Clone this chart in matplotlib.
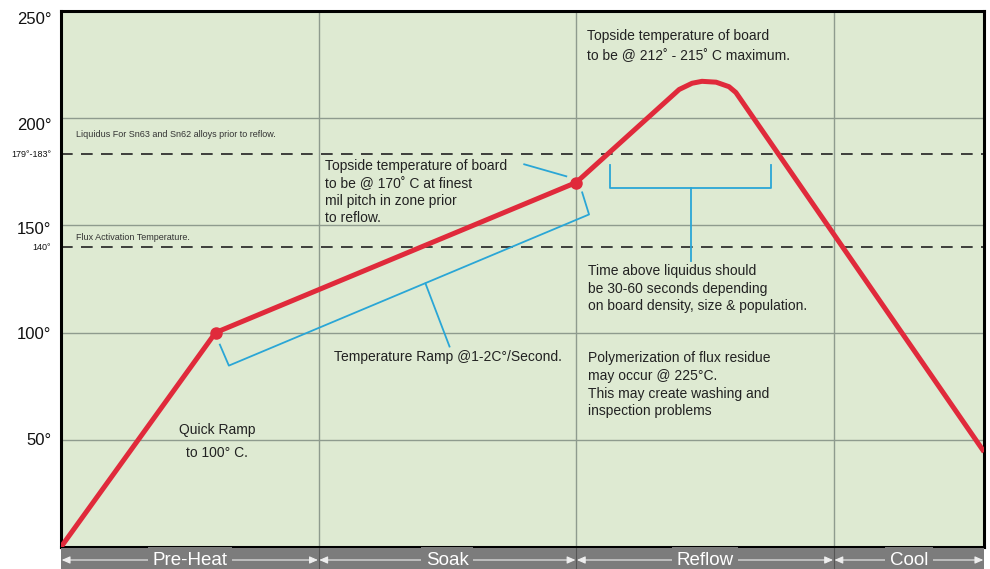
import matplotlib
matplotlib.use('Agg')
import matplotlib.pyplot as plt
import matplotlib.transforms as mtransforms

plt.rcParams['font.family'] = ['Liberation Sans', 'DejaVu Sans']

# reflow profile (time in s, temperature in C)
time_s = [0, 36, 120, 144.0, 147.0, 149.3, 152.6, 155.6, 157.2, 214.7]
temp_c = [0, 100, 170, 213.4, 216.3, 217.2, 216.8, 214.7, 212.0, 45.3]
dot_time = [36, 120]
dot_temp = [100, 170]

zone_names = ['Pre-Heat', 'Soak', 'Reflow', 'Cool']
zone_edges = [0, 60, 120, 180, 215]

grid_temps = [50, 100, 150, 200]
tick_temps = [250, 200, 150, 100, 50, 183.5, 140]
tick_labels = ['250°', '200°', '150°', '100°', '50°', '179°-183°', '140°']
tick_shift_px = [7, 6, 3, 0, -1, 0, 0]
liquidus = 183.5
flux_act = 140

# blue callout brackets
ramp_bracket_x = [37.0, 39.1, 123.0, 121.4]
ramp_bracket_y = [94.4, 84.6, 155.1, 165.4]
ramp_tick_x = [84.9, 90.5]
ramp_tick_y = [122.9, 93.5]
leader_x = [107.9, 117.7]
leader_y = [178.5, 172.9]
tal_bracket_x = [127.9, 127.9, 165.3, 165.3]
tal_bracket_y = [178.0, 167.3, 167.3, 178.0]
tal_tick_x = [146.7, 146.7]
tal_tick_y = [167.3, 133.2]

red = '#e02a3b'
blue = '#2aa6d6'
bg = '#deead2'
gridc = '#8e9b8e'

fig = plt.figure(figsize=(9.9, 5.69), dpi=100)
ax = fig.add_axes([61/990, 22/569, 923/990, 536/569])
ax.set_facecolor(bg)
ax.set_xlim(zone_edges[0], zone_edges[-1])
ax.set_ylim(0, 250)

for t in grid_temps:
    ax.axhline(t, color=gridc, lw=1.0, zorder=1)
for x in zone_edges[1:-1]:
    ax.axvline(x, color=gridc, lw=1.0, zorder=1)
for t in [liquidus, flux_act]:
    ax.axhline(t, color='#222222', lw=1.2, dashes=(7, 5), zorder=2)

ax.plot(ramp_bracket_x, ramp_bracket_y, color=blue, lw=1.3, zorder=3)
ax.plot(ramp_tick_x, ramp_tick_y, color=blue, lw=1.3, zorder=3)
ax.plot(leader_x, leader_y, color=blue, lw=1.3, zorder=3)
ax.plot(tal_bracket_x, tal_bracket_y, color=blue, lw=1.3, zorder=3)
ax.plot(tal_tick_x, tal_tick_y, color=blue, lw=1.3, zorder=3)

ax.plot(time_s, temp_c, color=red, lw=3.6, solid_joinstyle='round', zorder=4)
ax.plot(dot_time, dot_temp, 'o', color=red, ms=8, zorder=5)

ax.set_xticks([])
ax.set_yticks(tick_temps)
ax.set_yticklabels(tick_labels)
ax.tick_params(axis='y', length=0, pad=7)
for lab, t, dy in zip(ax.get_yticklabels(), tick_temps, tick_shift_px):
    lab.set_fontsize(12 if t % 50 == 0 else 6.5)
    lab.set_color('#111111')
    off = mtransforms.ScaledTranslation(0, -dy / 100, fig.dpi_scale_trans)
    lab.set_transform(lab.get_transform() + off)
for s in ax.spines.values():
    s.set_linewidth(2.2)
    s.set_color('black')

txt = dict(color='#222222', fontsize=10, va='top', ha='left', zorder=6)
ax.text(122.6, 241.5, 'Topside temperature of board\nto be @ 212˚ - 215˚ C maximum.',
        linespacing=1.55, **txt)
ax.text(61.4, 180.8, 'Topside temperature of board\nto be @ 170˚ C at finest\nmil pitch in zone prior\nto reflow.',
        linespacing=1.3, **txt)
ax.text(122.8, 131.8, 'Time above liquidus should\nbe 30-60 seconds depending\non board density, size & population.',
        linespacing=1.3, **txt)
ax.text(122.8, 91.2, 'Polymerization of flux residue\nmay occur @ 225°C.\nThis may create washing and\ninspection problems',
        linespacing=1.33, **txt)
ax.text(63.5, 88.8, 'Temperature Ramp @1-2C°/Second.', color='#222222', fontsize=10,
        va='center', ha='left')
ax.text(36.3, 58.0, 'Quick Ramp\nto 100° C.', color='#222222', fontsize=10,
        va='top', ha='center', linespacing=1.85)
ax.text(3.5, 192.5, 'Liquidus For Sn63 and Sn62 alloys prior to reflow.', fontsize=6.5,
        color='#333333', va='center')
ax.text(3.5, 144.4, 'Flux Activation Temperature.', fontsize=6.5, color='#333333', va='center')

# zone band under the chart
band = fig.add_axes([61/990, -4/569, 923/990, 25/569])
band.set_facecolor('#7c7c7c')
band.set_xlim(zone_edges[0], zone_edges[-1])
band.set_ylim(0, 1)
band.set_xticks([])
band.set_yticks([])
for s in band.spines.values():
    s.set_visible(False)
for name, x0, x1 in zip(zone_names, zone_edges[:-1], zone_edges[1:]):
    band.annotate('', xy=(x1, 0.52), xytext=(x0, 0.52),
                  arrowprops=dict(arrowstyle='<|-|>,head_length=0.5,head_width=0.22',
                                  color='#eeeeee', lw=0.8, shrinkA=0.5, shrinkB=0.5))
    band.text((x0 + x1) / 2, 0.5, name, color='white', fontsize=13.5, ha='center', va='center',
              bbox=dict(boxstyle='square,pad=0.25', fc='#7c7c7c', ec='none'))
    if x0 > 0:
        band.axvline(x0, color='#555555', lw=0.8)

fig.savefig('out.png', dpi=100)
